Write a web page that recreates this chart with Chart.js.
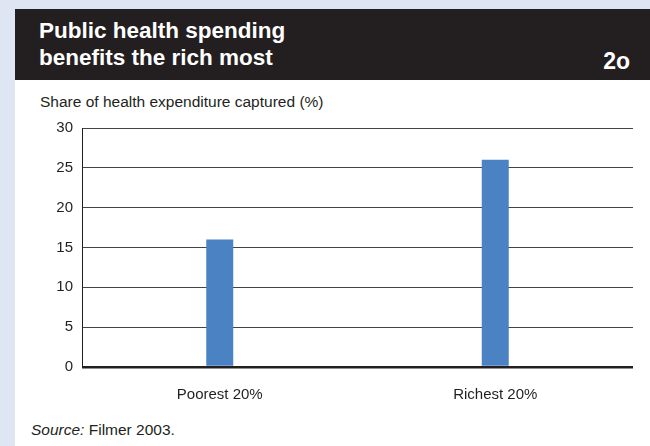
<!DOCTYPE html>
<html>
<head>
<meta charset="utf-8">
<script src="https://cdn.jsdelivr.net/npm/chart.js@4/dist/chart.umd.min.js"></script>
<style>
  html, body { margin: 0; padding: 0; }
  body {
    width: 650px; height: 446px; overflow: hidden;
    background: #dfe6f3; position: relative;
    font-family: "Liberation Sans", Arial, sans-serif; color: #231f20;
  }
  #cabecera {
    position: absolute; left: 15px; top: 9px; width: 635px; height: 71px;
    background: #231f20; color: #fff;
  }
  #titulo {
    position: absolute; left: 24px; top: 8px;
    font-size: 22.5px; font-weight: bold; line-height: 27px;
  }
  #numero {
    position: absolute; right: 20px; top: 39px;
    font-size: 23px; font-weight: bold;
  }
  #panel {
    position: absolute; left: 15px; top: 80px; width: 635px; height: 366px;
    background: #fff;
  }
  #eje-titulo { position: absolute; left: 25px; top: 13px; font-size: 15.5px; }
  #fuente { position: absolute; left: 16px; top: 341px; font-size: 15.5px; }
  #contenedor { position: absolute; left: 0; top: 30px; width: 635px; height: 290px; }
</style>
</head>
<body>
<div id="cabecera">
  <div id="titulo">Public health spending<br>benefits the rich most</div>
  <div id="numero">2o</div>
</div>
<div id="panel">
  <div id="eje-titulo">Share of health expenditure captured (%)</div>
  <div id="contenedor"><canvas id="grafico"></canvas></div>
  <div id="fuente"><i>Source:</i> Filmer 2003.</div>
</div>
<script>
// Datos del grafico
var categorias = ['Poorest 20%', 'Richest 20%'];
var valores = [16, 26];
var ticksY = [0, 5, 10, 15, 20, 25, 30];

var ctx = document.getElementById('grafico').getContext('2d');

var graficoBarras = new Chart(ctx, {
    type: 'bar',
    data: {
        labels: categorias,
        datasets: [{
            data: valores,
            backgroundColor: '#4a82c3',
            borderWidth: 0,
            barPercentage: 0.098,
            categoryPercentage: 1
        }]
    },
    options: {
        responsive: true,
        maintainAspectRatio: false,
        animation: false,
        layout: { padding: { top: 17, right: 17, left: 0, bottom: 0 } },
        plugins: { legend: { display: false }, tooltip: { enabled: false } },
        scales: {
            x: {
                grid: { display: false },
                border: { display: false },
                ticks: {
                    color: '#231f20',
                    padding: 11,
                    font: { family: 'Liberation Sans', size: 15 }
                },
                afterFit: function (escala) { escala.height = 33; }
            },
            y: {
                min: 0,
                max: 30,
                afterBuildTicks: function (escala) {
                    escala.ticks = ticksY.map(function (v) { return { value: v }; });
                },
                grid: {
                    drawTicks: false,
                    color: function (c) { return c.tick && c.tick.value === 0 ? '#231f20' : '#444444'; },
                    lineWidth: function (c) { return c.tick && c.tick.value === 0 ? 2.5 : 1; }
                },
                border: { display: true, color: '#231f20', width: 1 },
                ticks: {
                    color: '#231f20',
                    padding: 9,
                    font: { family: 'Liberation Sans', size: 15 }
                },
                afterFit: function (escala) { escala.width = 67; }
            }
        }
    }
});
</script>
</body>
</html>
